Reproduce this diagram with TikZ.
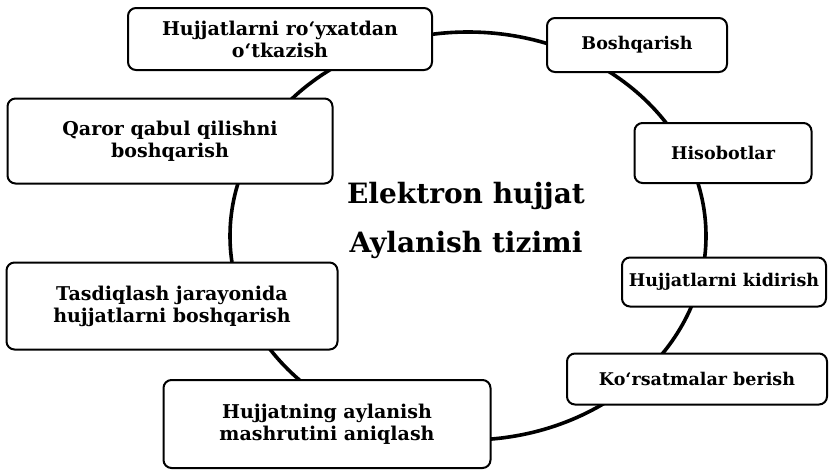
\documentclass[tikz,border=0pt]{standalone}
\usepackage{fontspec}
\setmainfont{DejaVu Serif}
\usetikzlibrary{shapes.geometric}

\begin{document}
\begin{tikzpicture}[
  x=1pt, y=-1pt,
  font=\bfseries\fontsize{19}{22}\selectfont,
  box/.style={draw, line width=2pt, rounded corners=8pt, align=center, fill=white, inner sep=0pt},
  tag/.style={box, font=\bfseries\fontsize{17.5}{21}\selectfont},
  ring/.style={draw, line width=3.6pt, ellipse, minimum width=476pt, minimum height=408pt, inner sep=0pt},
  title/.style={font=\bfseries\fontsize{28}{34}\selectfont, anchor=base}
]
\useasboundingbox (0,0) rectangle (829,469);
\node[ring] (Ring) at (468,236) {};
\node[box, minimum width=304pt, minimum height=62pt] (Reg) at (280,39) {Hujjatlarni ro‘yxatdan\\o‘tkazish};
\node[tag, minimum width=180pt, minimum height=54pt] (Manage) at (637,45) {Boshqarish};
\node[tag, minimum width=177pt, minimum height=60pt] (Reports) at (723,153) {Hisobotlar};
\node[box, minimum width=325pt, minimum height=85pt] (Decide) at (170,141) {Qaror qabul qilishni\\boshqarish};
\node[box, minimum width=331pt, minimum height=87pt] (Approve) at (172,306) {Tasdiqlash jarayonida\\hujjatlarni boshqarish};
\node[box, minimum width=327pt, minimum height=88pt] (Route) at (327,424) {Hujjatning aylanish\\mashrutini aniqlash};
\node[tag, minimum width=204pt, minimum height=49pt] (Search) at (724,282) {Hujjatlarni kidirish};
\node[tag, minimum width=260pt, minimum height=51pt] (Guide) at (697,379) {Ko‘rsatmalar berish};
\node[title] (TitleTop) at (466,203) {Elektron hujjat};
\node[title] (TitleBot) at (466,252) {Aylanish tizimi};
\end{tikzpicture}
\end{document}
